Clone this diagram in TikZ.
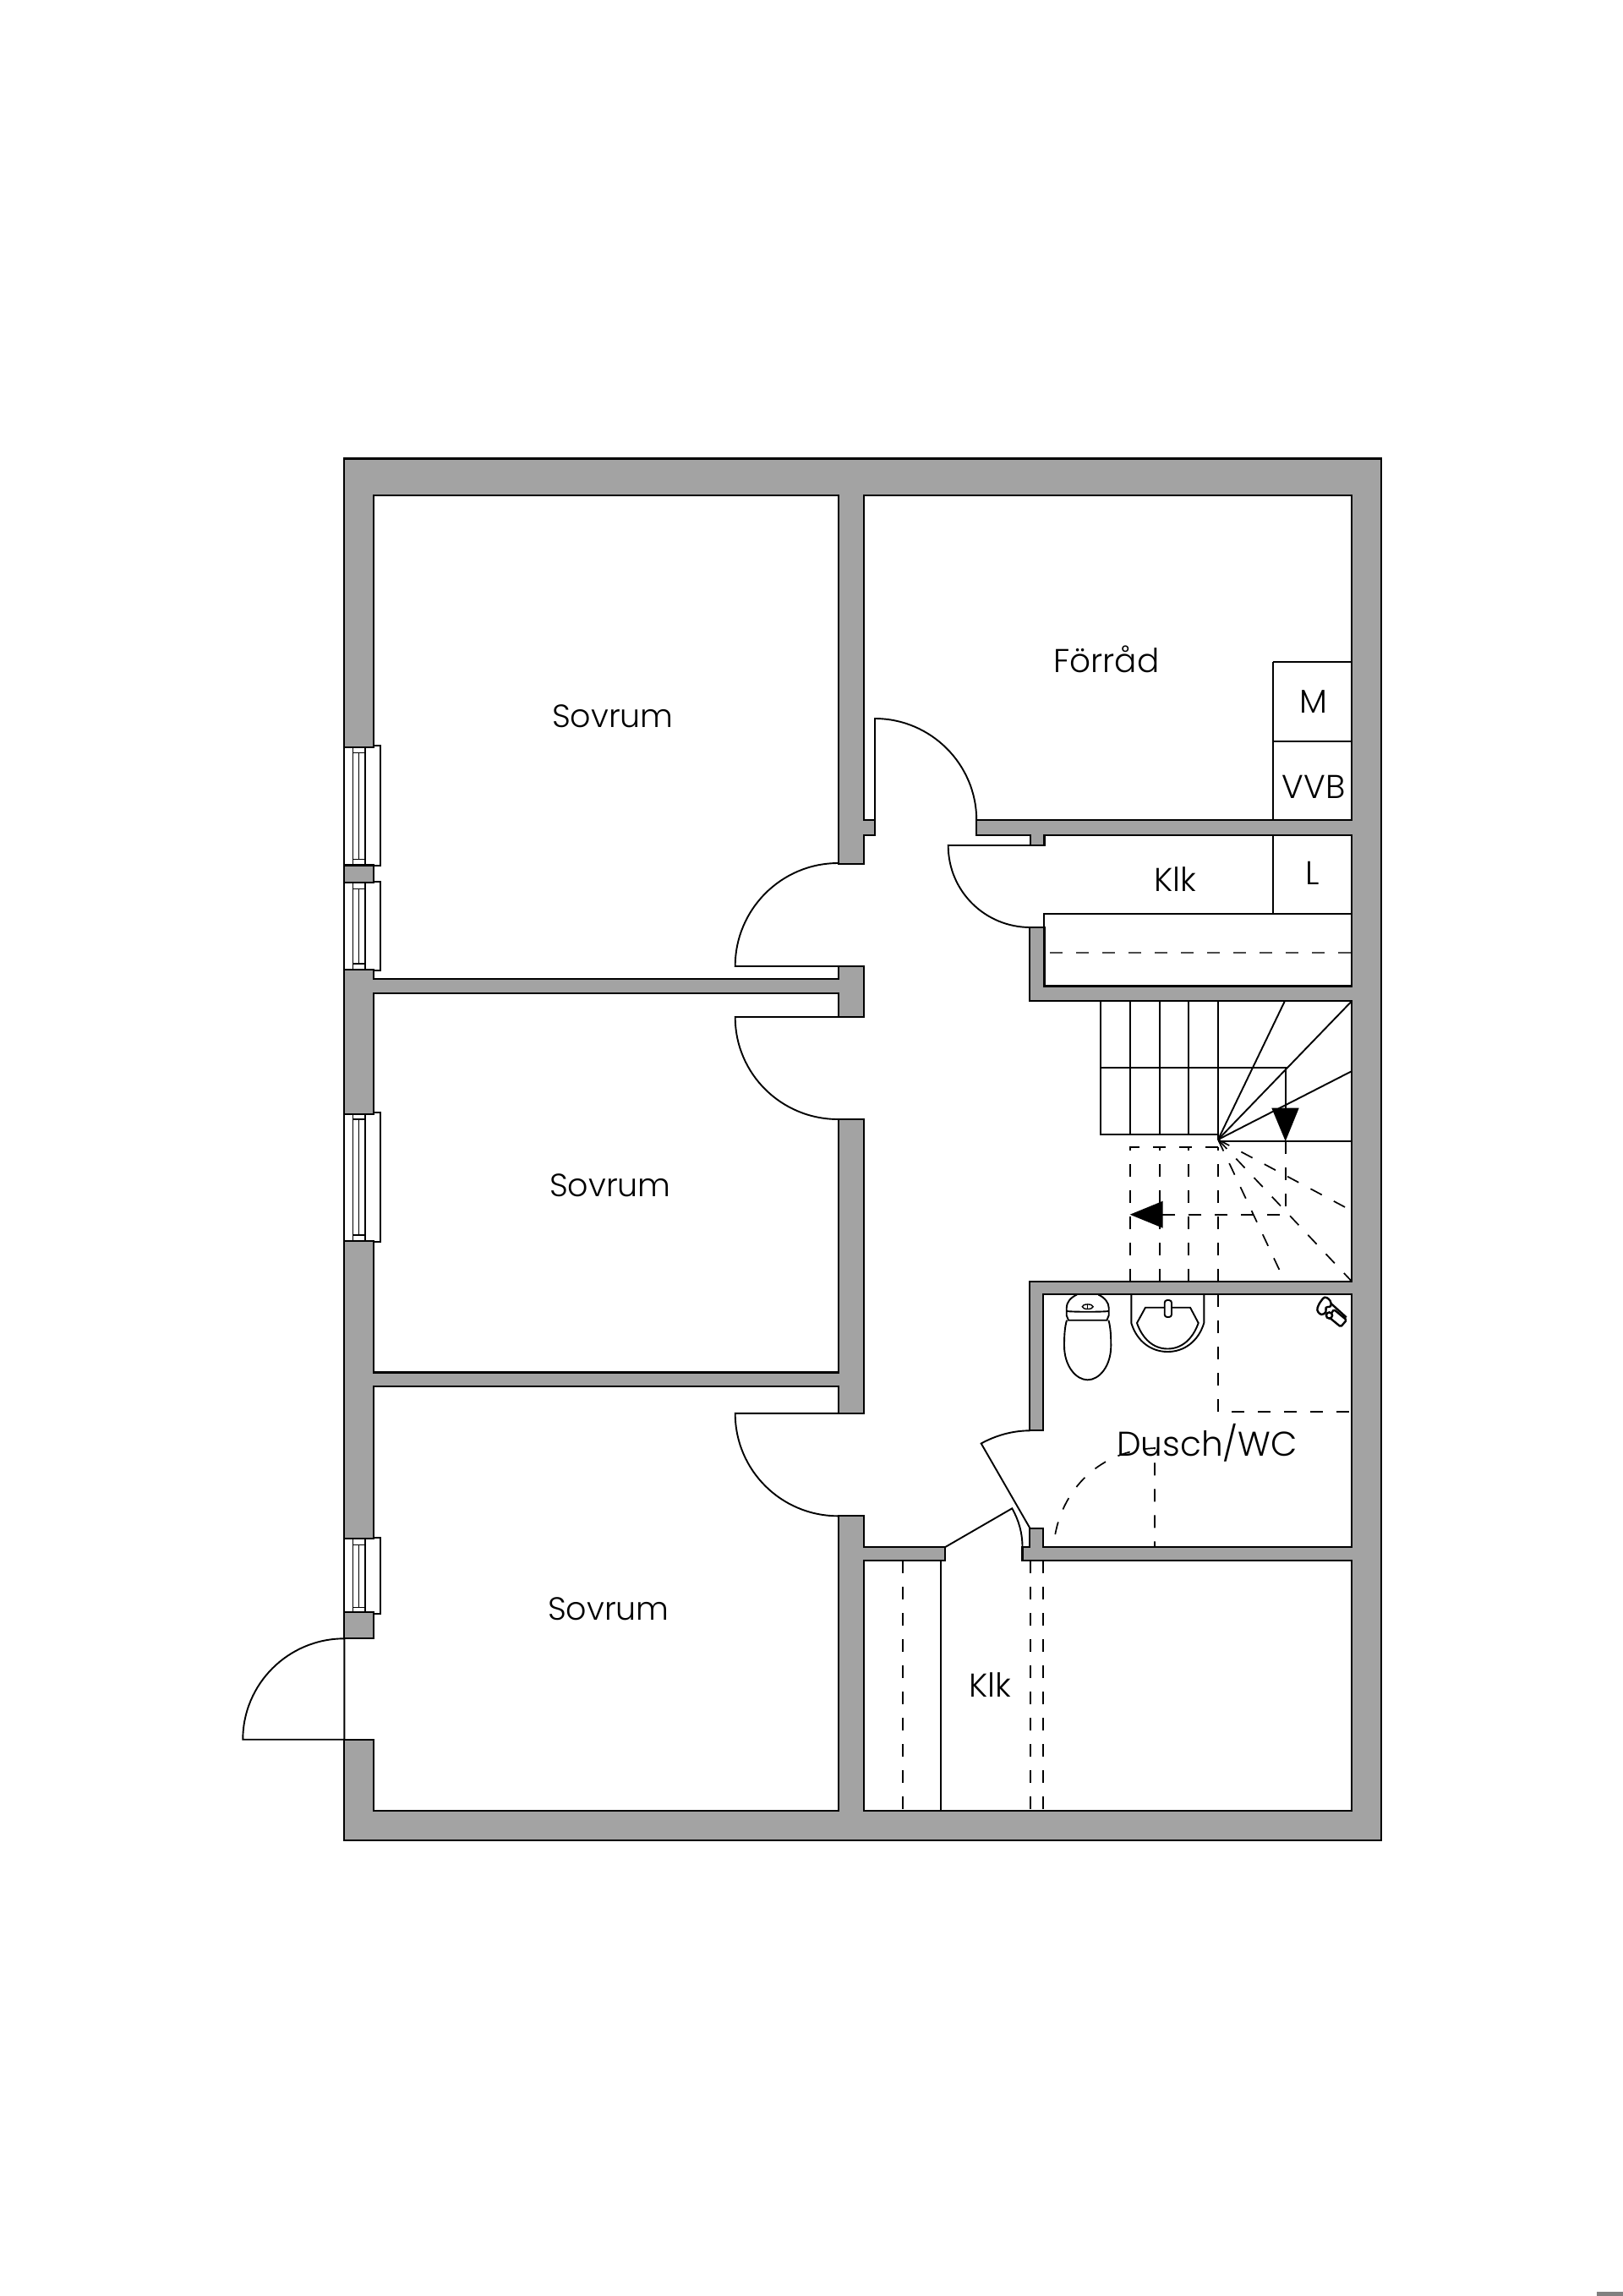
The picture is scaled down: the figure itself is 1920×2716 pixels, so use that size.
\documentclass[tikz,border=0pt]{standalone}
\usepackage{fontspec}
\setmainfont{Poppins}[UprightFont=* Light]
\definecolor{wallgray}{HTML}{A3A3A3}
\tikzset{
  px/.style={x=0.5pt,y=-0.5pt},
  wall/.style={fill=wallgray,draw=black,line width=1.1pt,line join=miter},
  ln/.style={draw=black,line width=0.95pt},
  fineln/.style={draw=black,line width=0.7pt},
  dashln/.style={draw=black,line width=0.85pt,dash pattern=on 7.5pt off 8pt},
  roomlabel/.style={font=\fontsize{19.5}{22}\selectfont,text=black,inner sep=0pt},
  sovlabel/.style={font=\fontsize{19}{22}\selectfont,text=black,inner sep=0pt},
  duschlabel/.style={font=\fontsize{20.3}{22}\selectfont,text=black,inner sep=0pt},
  mixln/.style={draw=black,line width=1.2pt},
}
\newcommand{\winframe}[2]{%
  \draw[ln] (407.3,#1) rectangle (450,#2);
  \draw[fineln] (417.5,#1+1) rectangle (431.8,#2-1);
  \draw[fineln] (417.5,#1+8) -- (431.8,#1+8) (417.5,#2-8) -- (431.8,#2-8);
  \draw[fineln] (424.6,#1+8) -- (424.6,#2-8);
}
\begin{document}
\begin{tikzpicture}[px]
\useasboundingbox (0,0) rectangle (1920,2716);
\fill[white] (0,0) rectangle (1920,2716);
\fill[gray] (1889,2711) rectangle (1920,2716);
% windows
\winframe{882.3}{1024.3}
\winframe{1043.3}{1148}
\winframe{1316}{1469}
\winframe{1819.3}{1909.3}
% walls
\draw[wall] (407.3,542.4) -- (1634,542.4) -- (1634,2176.6) -- (407.3,2176.6) -- (407.3,2057.7) -- (442,2057.7)
  -- (442,2142) -- (991.6,2142) -- (991.6,1793.3) -- (1022.3,1793.3) -- (1022.3,1830) -- (1118.3,1830) -- (1118.3,1846)
  -- (1022.3,1846) -- (1022.3,2142) -- (1599.3,2142) -- (1599.3,1846) -- (1209.5,1846) -- (1209.5,1830)
  -- (1218.3,1830) -- (1218.3,1808) -- (1234.3,1808) -- (1234.3,1830) -- (1599.3,1830) -- (1599.3,1531)
  -- (1234.3,1531) -- (1234.3,1692.3) -- (1218.3,1692.3) -- (1218.3,1516) -- (1599.3,1516) -- (1599.3,1184)
  -- (1218.3,1184) -- (1218.3,1097) -- (1235.4,1097) -- (1235.4,1166.4) -- (1599.3,1166.4) -- (1599.3,988)
  -- (1235.4,988) -- (1235.4,1000) -- (1219,1000) -- (1219,988) -- (1155.2,988) -- (1155.2,970) -- (1599.3,970)
  -- (1599.3,585.7) -- (1022.3,585.7) -- (1022.3,970) -- (1035,970) -- (1035,988) -- (1022.3,988) -- (1022.3,1022)
  -- (991.6,1022) -- (991.6,585.7) -- (442,585.7) -- (442,884) -- (407.3,884) -- cycle;
\draw[wall] (407.3,1023.5) rectangle (442,1044.3);
\draw[wall] (407.3,1147) -- (442,1147) -- (442,1158.3) -- (991.6,1158.3) -- (991.6,1143) -- (1022.3,1143) -- (1022.3,1203)
  -- (991.6,1203) -- (991.6,1175) -- (442,1175) -- (442,1318) -- (407.3,1318) -- cycle;
\draw[wall] (407.3,1467.7) -- (442,1467.7) -- (442,1623.5) -- (991.6,1623.5) -- (991.6,1324) -- (1022.3,1324) -- (1022.3,1671.8)
  -- (991.6,1671.8) -- (991.6,1640) -- (442,1640) -- (442,1820) -- (407.3,1820) -- cycle;
\draw[wall] (407.3,1907.3) rectangle (442,1938.3);
% doors
\draw[ln] (991.6,1143) -- (869.7,1143) .. controls (869.7,1076) and (924,1021) .. (991.6,1021);
\draw[ln] (991.6,1203) -- (869.7,1203) .. controls (869.7,1270) and (924,1324) .. (991.6,1324);
\draw[ln] (991.6,1671.8) -- (869.7,1671.8) .. controls (869.7,1739) and (924,1793.3) .. (991.6,1793.3);
\draw[ln] (1155.2,970) .. controls (1155.2,904) and (1101,850) .. (1035,850) -- (1035,970);
\draw[ln] (1219,1000) -- (1121.7,1000) .. controls (1121.7,1054) and (1165,1097) .. (1219,1097);
\draw[ln] (407.3,1938.3) -- (407.3,2057.7) -- (287.3,2057.7) .. controls (287.3,1992) and (341,1938.3) .. (407.3,1938.3);
% WC door
\draw[ln] (1218.3,1807.5) -- (1160.7,1707.5) .. controls (1178,1698) and (1198,1692.3) .. (1218.3,1692.3);
\draw[ln] (1118.3,1830) -- (1197.3,1784.3) .. controls (1205,1798) and (1209.5,1813) .. (1209.5,1830);
% storage rooms
\draw[ln] (1506,783) -- (1599.3,783) (1506,783) -- (1506,970) (1506,877) -- (1599.3,877);
\draw[ln] (1506,988) -- (1506,1081) (1235.4,1097) -- (1235.4,1081) -- (1599.3,1081);
\draw[dashln,draw=black!70] (1242,1127) -- (1599.3,1127);
% stairs
\draw[ln] (1301.7,1184) -- (1301.7,1342.3) -- (1441,1342.3);
\foreach \x in {1336.7,1371.7,1406.3,1441} \draw[ln] (\x,1184) -- (\x,1342.3);
\draw[ln] (1301.7,1262.7) -- (1520.7,1262.7) -- (1520.7,1320);
\coordinate (piv) at (1441,1348);
\draw[ln] (piv) -- (1520,1184);
\draw[ln] (piv) -- (1599.3,1184);
\draw[ln] (piv) -- (1599.3,1267);
\draw[ln] (piv) -- (1441,1342.3);
\draw[ln] (1441,1349.7) -- (1599.3,1349.7);
\fill[black] (1504.3,1310.7) -- (1536.7,1310.7) -- (1520.7,1350) -- cycle;
\draw[dashln] (1520.7,1350) -- (1520.7,1436.7) -- (1375,1436.7);
\fill[black] (1336.7,1436.7) -- (1375.7,1420.7) -- (1375.7,1452.7) -- cycle;
\draw[dashln] (1336.7,1516) -- (1336.7,1357.3) -- (1441,1357.3);
\foreach \x in {1371.7,1406.3,1441} \draw[dashln] (\x,1516) -- (\x,1357.3);
\draw[dashln] (piv) -- (1599.3,1432.3);
\draw[dashln] (piv) -- (1599.3,1516);
\draw[dashln] (piv) -- (1520,1516);
% shower
\draw[dashln] (1441.3,1531) -- (1441.3,1670) -- (1599.3,1670);
\draw[dashln] (1248.3,1815) .. controls (1258,1762) and (1300,1716) .. (1366,1713) -- (1366,1830);
% lower closet
\draw[ln] (1113.3,1846) -- (1113.3,2142);
\draw[dashln] (1067.7,1846) -- (1067.7,2142);
\draw[dashln] (1218.7,1846) -- (1218.7,2142);
\draw[dashln] (1234,1846) -- (1234,2142);
% toilet
\draw[ln] (1274,1531.5) .. controls (1266,1535) and (1261.7,1541) .. (1261.7,1547) -- (1261.7,1556) -- (1264,1561.7) -- (1309.4,1561.7) -- (1311.7,1556) -- (1311.7,1547) .. controls (1311.7,1541) and (1307,1535) .. (1299.4,1531.5);
\draw[ln] (1261.7,1551) .. controls (1270,1552) and (1303,1552) .. (1311.7,1551);
\draw[ln] (1262,1561.7) .. controls (1259.5,1570) and (1259,1580) .. (1259,1592) .. controls (1259,1616) and (1273,1632.3) .. (1286.7,1632.3) .. controls (1300.4,1632.3) and (1314.3,1616) .. (1314.3,1592) .. controls (1314.3,1580) and (1313.8,1570) .. (1311.4,1561.7);
\draw[fineln] (1286.7,1545.7) ellipse[x radius=3.2pt,y radius=1.4pt];
\draw[fineln] (1286.7,1543) -- (1286.7,1548.4);
% sink
\draw[ln] (1338.3,1531) -- (1338.3,1565) .. controls (1345,1587) and (1362,1599) .. (1381.3,1599) .. controls (1400.6,1599) and (1417.6,1587) .. (1424.3,1565) -- (1424.3,1531);
\draw[ln] (1355,1546.7) -- (1408,1546.7) -- (1417.7,1565) .. controls (1411,1584) and (1398,1595.5) .. (1381.3,1595.5) .. controls (1364.6,1595.5) and (1351.6,1584) .. (1345,1565) -- cycle;
\draw[ln,fill=white,rounded corners=1.5pt] (1377.7,1538) rectangle (1386,1558);
% mixer
\draw[mixln] (1568,1536) -- (1592.7,1558.3);
\draw[mixln,fill=white,rounded corners=0.8pt] (1578,1549) -- (1593,1561.5) -- (1586,1569.5) -- (1572,1558) -- cycle;
\draw[mixln,fill=white,rounded corners=1.5pt] (1567,1533.5) -- (1574,1538) -- (1575,1546) -- (1567.5,1546) -- (1569.5,1552) -- (1563,1556) -- (1557.5,1550) -- (1560.5,1542) -- cycle;
\draw[mixln,fill=white] (1572.5,1556) circle[radius=1.8pt];
% labels
\node[sovlabel] (sov1) at (725,847) {Sovrum};
\node[sovlabel] (sov2) at (722,1402) {Sovrum};
\node[sovlabel] (sov3) at (720,1903) {Sovrum};
\node[roomlabel] (forrad) at (1309,780) {Förråd};
\node[roomlabel] (mm) at (1554,830) {M};
\node[roomlabel] (vvb) at (1554,931) {VVB};
\node[roomlabel] (ll) at (1553,1033) {L};
\node[roomlabel] (klk1) at (1390,1040) {Klk};
\node[roomlabel] (klk2) at (1171.5,1993) {Klk};
\node[duschlabel] (dusch) at (1428,1707) {Dusch/WC};
\end{tikzpicture}
\end{document}
